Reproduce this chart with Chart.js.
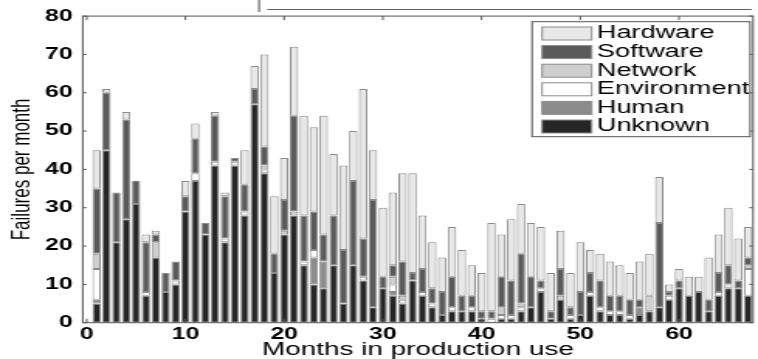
<!DOCTYPE html>
<html>
<head>
<meta charset="utf-8">
<script src="https://cdn.jsdelivr.net/npm/chart.js@4.4.1/dist/chart.umd.min.js"></script>
<style>
  html, body { margin: 0; padding: 0; background: #fff; }
</style>
</head>
<body>
<!-- the original figure is stretched sideways, so the canvas is drawn narrow and widened by its inline style -->
<canvas id="failures" width="489" height="359" style="display:block;width:758px;height:359px"></canvas>
<script>
const months = [1,2,3,4,5,6,7,8,9,10,11,12,13,14,15,16,17,18,19,20,21,22,23,24,25,26,27,28,29,30,31,32,33,34,35,36,37,38,39,40,41,42,43,44,45,46,47,48,49,50,51,52,53,54,55,56,57,58,59,60,61,62,63,64,65,66,67];

const unknown     = [5,45,21,27,31,7,17,8,10,29,37,23,41,21,41,28,57,39,13,23,28,15,10,9,15,5,15,11,4,9,7,5,11,7,4,2,3,3,3,1,0,1,1,3,4,8,1,6,1,2,7,3,2,2,1,2,3,4,6,9,7,8,3,7,9,9,7];
const human       = [1,0,0,0,0,0,0,0,0,0,0,0,0,0,0,0,0,0,0,0,0,0,7,7,0,0,0,0,0,0,1,0,0,0,0,0,0,0,0,0,0,0,0,0,0,0,0,0,0,0,0,0,0,0,0,2,0,0,0,0,0,0,0,0,0,0,0];
const environment = [8,0,0,0,0,1,0,0,1,0,2,0,1,1,1,1,0,1,0,0,0,1,2,0,0,0,0,1,0,0,2,1,0,1,1,0,1,0,1,0,1,1,1,1,0,1,0,0,1,0,1,1,1,1,1,0,0,0,1,0,0,0,0,1,1,0,7];
const network     = [4,0,0,0,0,0,4,0,0,0,0,0,0,0,0,0,0,1,0,1,1,0,0,0,0,0,0,0,0,0,2,1,0,0,0,0,0,0,0,0,0,2,0,1,0,0,0,1,0,0,0,0,0,0,0,0,4,0,0,0,0,0,0,0,0,0,1];
const software    = [17,15,13,26,6,13,2,5,5,4,9,3,12,11,1,7,4,5,5,8,25,12,10,7,13,14,22,10,28,3,3,9,2,6,4,6,8,4,3,2,2,8,9,13,8,2,2,7,2,6,5,7,4,4,4,2,0,22,1,2,0,0,3,5,5,2,2];
const hardware    = [10,1,0,2,0,2,1,0,0,4,4,0,1,1,0,9,6,24,15,11,18,26,22,31,16,22,13,39,13,18,19,23,26,14,12,9,13,12,8,10,23,11,16,13,14,14,10,10,9,13,6,7,9,8,7,10,11,12,2,3,5,4,11,10,15,11,8];

const yTicks = [0,10,20,30,40,50,60,70,80];
const xTicks = [0,10,20,30,40,50,60];

const font = 'Liberation Sans, Arial, Helvetica, sans-serif';

function series(label, values, colour) {
    return {
        label: label,
        data: values.map(v => v === 0 ? null : v),
        backgroundColor: colour,
        borderColor: '#8c8c8c',
        borderWidth: 1,
        borderSkipped: false,
        barPercentage: 0.85,
        categoryPercentage: 1.0
    };
}

// box round the axes with the small inward ticks
const framePlugin = {
    id: 'frame',
    afterDatasetsDraw(chart) {
        const {ctx, chartArea: a, scales: {x, y}} = chart;
        ctx.save();
        ctx.strokeStyle = '#555';
        ctx.lineWidth = 1;
        ctx.strokeRect(a.left, a.top, a.right - a.left, a.bottom - a.top);
        ctx.beginPath();
        yTicks.forEach(v => {
            const py = y.getPixelForValue(v);
            ctx.moveTo(a.left, py); ctx.lineTo(a.left + 2.5, py);
            ctx.moveTo(a.right, py); ctx.lineTo(a.right - 2.5, py);
        });
        xTicks.forEach(v => {
            const px = x.getPixelForValue(v);
            ctx.moveTo(px, a.top); ctx.lineTo(px, a.top + 4);
            ctx.moveTo(px, a.bottom); ctx.lineTo(px, a.bottom - 4);
        });
        ctx.stroke();
        ctx.restore();
    }
};

// legend box in the top right corner, Hardware first
const legendPlugin = {
    id: 'boxLegend',
    afterDraw(chart) {
        const ctx = chart.ctx;
        const items = chart.data.datasets.slice().reverse();
        ctx.save();
        ctx.fillStyle = '#fff';
        ctx.fillRect(343.2, 21.7, 140.7, 115);
        ctx.strokeStyle = '#555';
        ctx.lineWidth = 1;
        ctx.strokeRect(343.2, 21.7, 140.7, 115);
        ctx.font = '17.5px ' + font;
        ctx.textBaseline = 'middle';
        items.forEach((ds, i) => {
            const cy = 33.5 + i * 18.6;
            ctx.fillStyle = ds.backgroundColor;
            ctx.fillRect(349.7, cy - 6.5, 32, 13);
            ctx.strokeStyle = '#8c8c8c';
            ctx.strokeRect(349.7, cy - 6.5, 32, 13);
            ctx.fillStyle = '#000';
            ctx.fillText(ds.label, 385, cy);
        });
        // lines left over from the crop above the plot
        ctx.strokeStyle = '#666';
        ctx.lineWidth = 1.2;
        ctx.beginPath();
        ctx.moveTo(172.3, 9.5); ctx.lineTo(485, 9.5);
        ctx.moveTo(167.1, 0); ctx.lineTo(167.1, 12);
        ctx.stroke();
        ctx.restore();
    }
};

const config = {
    type: 'bar',
    data: {
        labels: months,
        datasets: [
            series('Unknown', unknown, '#262626'),
            series('Human', human, '#8c8c8c'),
            series('Environment', environment, '#ffffff'),
            series('Network', network, '#cfcfcf'),
            series('Software', software, '#5a5a5a'),
            series('Hardware', hardware, '#e8e8e8')
        ]
    },
    options: {
        responsive: false,
        devicePixelRatio: 1,
        animation: false,
        layout: { padding: { left: 0, right: 3.2, top: 15.3, bottom: 0 } },
        plugins: {
            legend: { display: false },
            tooltip: { enabled: false }
        },
        scales: {
            x: {
                type: 'linear',
                stacked: true,
                offset: false,
                min: -0.4,
                max: 67.5,
                grid: { display: false, drawTicks: false },
                border: { display: false },
                afterBuildTicks: s => { s.ticks = xTicks.map(v => ({ value: v })); },
                afterFit: s => { s.height = 36.3; },
                ticks: {
                    color: '#000',
                    padding: 2,
                    maxRotation: 0,
                    font: { family: font, size: 16, weight: 'bold' }
                },
                title: {
                    display: true,
                    text: 'Months in production use',
                    color: '#000',
                    padding: 0,
                    font: { family: font, size: 18, lineHeight: 1 }
                }
            },
            y: {
                stacked: true,
                min: 0,
                max: 80,
                grid: { display: false, drawTicks: false },
                border: { display: false },
                afterBuildTicks: s => { s.ticks = yTicks.map(v => ({ value: v })); },
                afterFit: s => { s.width = 53.4; },
                ticks: {
                    color: '#000',
                    padding: 6.5,
                    font: { family: font, size: 16, weight: 'bold' }
                },
                title: {
                    display: true,
                    text: 'Failures per month',
                    color: '#000',
                    padding: { top: 6.3, bottom: 0 },
                    font: { family: font, size: 17, lineHeight: 1 }
                }
            }
        }
    },
    plugins: [framePlugin, legendPlugin]
};

var ctx = document.getElementById('failures').getContext('2d');
var failures = new Chart(ctx, config);
</script>
</body>
</html>
